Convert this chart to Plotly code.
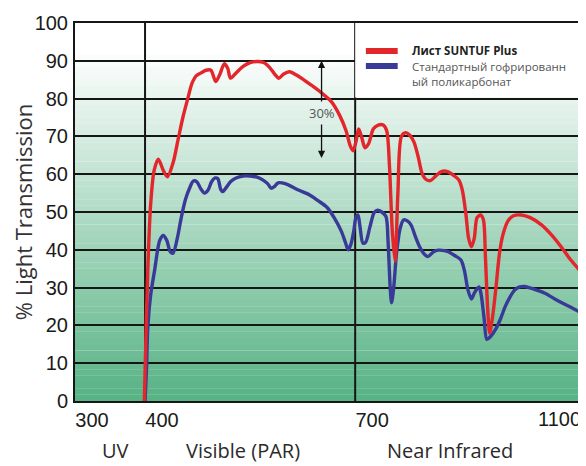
import plotly.graph_objects as go

# ---- data ----
wavelength_red = [399, 401, 404, 408, 413, 419, 426, 432, 440, 447, 454, 461, 467, 473, 480, 487,
                  494, 501, 507, 513, 518, 522, 530, 540, 550, 560, 570, 578, 585, 591, 598, 606,
                  620, 637, 652, 666, 678, 687, 693, 697, 701, 705, 709, 714, 719, 726, 733, 740,
                  745, 749, 753, 757, 761, 766, 772, 778, 784, 790, 795, 800, 807, 815, 823, 832,
                  842, 848, 853, 858, 862, 866, 870, 874, 879, 883, 886, 889, 892, 896, 901, 906,
                  911, 918, 926, 937, 950, 966, 980, 994, 1007, 1020]
suntuf_plus = [0, 15, 35, 52, 61, 64, 61, 59.3, 63, 69, 75, 80, 84, 86, 86.8, 87.5,
               87.5, 84.5, 86.5, 89.2, 88, 85.4, 86.8, 88.5, 89.5, 89.8, 89.5, 88.2, 86.5, 85.4, 86.5, 87.1,
               85.8, 83.6, 81.5, 79.2, 75.5, 71.5, 67.5, 66.2, 68.5, 72, 70, 67, 68, 72, 73, 73,
               71.5, 62, 45, 37, 55, 70, 71, 70.3, 68.5, 64.6, 60.5, 58.8, 58.3, 59.5, 60.7, 60.7,
               59.5, 58.5, 55.8, 49.6, 43, 40.8, 43, 48.5, 49.2, 48, 38, 25, 18, 22, 30, 39,
               44, 47.6, 49, 49.2, 48.5, 46.6, 44, 40.8, 37.5, 34.7]

wavelength_blue = [400, 402, 404, 408, 414, 418, 421, 426, 431, 436, 440, 446, 452, 458, 464, 469,
                   474, 480, 485, 490, 495, 500, 504, 508, 511, 516, 522, 530, 540, 550, 560, 568,
                   575, 580, 585, 590, 600, 619, 635, 647, 660, 670, 680, 686, 690, 694, 698, 701,
                   704, 707, 711, 715, 721, 727, 732, 738, 744, 747, 750, 752, 755, 759, 764, 769,
                   775, 780, 786, 792, 798, 804, 812, 819, 827, 833, 842, 851, 856, 861, 866, 870,
                   873, 877, 880, 884, 888, 893, 900, 907, 914, 921, 928, 935, 942, 955, 971, 985,
                   1000, 1020]
standard_pc = [0, 8, 19.7, 28, 35, 40, 42.5, 43.8, 42.5, 39.5, 39.1, 43, 48.8, 53.5, 56.5, 58.2,
               58, 56, 55, 55.8, 58, 59, 58.8, 56, 55.4, 56.5, 58, 59, 59.5, 59.5, 59.2, 58.5,
               57.5, 56.3, 56.8, 57.7, 57.5, 55.8, 54.5, 53, 51.2, 48.5, 45, 42, 40, 41.5, 45, 48.5,
               49.2, 46, 41.8, 42, 46, 49.8, 50.5, 50, 48.8, 42, 30, 26, 30, 39, 45.5, 47.9,
               47.6, 46.5, 43.5, 40.8, 39, 38.2, 39.5, 39.9, 39.8, 39.5, 38.5, 37.3, 34.5, 29.4, 27, 28.5,
               29.4, 30.2, 28, 22, 16.3, 17, 18.8, 21.5, 24.9, 27.5, 29.4, 30.2, 30.3, 29.6, 28.5, 27,
               25.5, 23.6]

series_names = ["Лист SUNTUF Plus", "Стандартный гофрированн<br>ый поликарбонат"]
x_tick_values = [300, 400, 700]
x_tick_labels = ["300", "400", "700"]
end_tick_label = "1100"
divider_wavelengths = [400, 700]
region_labels = ["UV", "Visible (PAR)", "Near Infrared"]
region_centers = [358, 540, 836]
gap_label = "30%"
gap_wavelength = 652
gap_top, gap_bottom, gap_text_level = 90, 64.3, 76.2

X_RANGE = [300, 1021]
Y_RANGE = [0, 100]

RED = "#e3262b"
BLUE = "#393a98"
GRID = "#161616"

fig = go.Figure()

fig.add_trace(go.Scatter(x=wavelength_blue, y=standard_pc, mode="lines", name="Стандартный гофрированный поликарбонат",
                         showlegend=False,
                         line=dict(color=BLUE, width=3.4, shape="spline", smoothing=0.8)))
fig.add_trace(go.Scatter(x=wavelength_red, y=suntuf_plus, mode="lines", name=series_names[0],
                         showlegend=False,
                         line=dict(color=RED, width=3.4, shape="spline", smoothing=0.8)))

shapes = []
# vertical gradient background (white at top -> green at bottom)
n_bands = 60
top_rgb = (255, 255, 255)
bot_rgb = (86, 178, 132)
for i in range(n_bands):
    y0 = Y_RANGE[0] + (Y_RANGE[1] - Y_RANGE[0]) * i / n_bands
    y1 = Y_RANGE[0] + (Y_RANGE[1] - Y_RANGE[0]) * (i + 1) / n_bands
    mid = (y0 + y1) / 2
    t = max(0.0, min(1.0, (93 - mid) / 93))
    c = tuple(round(top_rgb[k] + (bot_rgb[k] - top_rgb[k]) * t) for k in range(3))
    shapes.append(dict(type="rect", xref="paper", yref="y", x0=0, x1=1, y0=y0, y1=y1 + 0.05,
                       fillcolor="rgb(%d,%d,%d)" % c, line=dict(width=0), layer="below"))
# white legend box in the upper right
shapes.append(dict(type="rect", xref="x", yref="y", x0=divider_wavelengths[1], x1=X_RANGE[1],
                   y0=80.3, y1=Y_RANGE[1], fillcolor="white", line=dict(width=0), layer="between"))
# vertical dividers
for w in divider_wavelengths:
    shapes.append(dict(type="line", xref="x", yref="paper", x0=w, x1=w, y0=0, y1=1,
                       line=dict(color=GRID, width=2), layer="between"))

# legend (drawn by hand to match the swatch layout)
legend_swatch_x = (0.576, 0.639)
legend_text_x = 0.664
legend_rows = [(RED, 0.926, 0.926, "<b>" + series_names[0] + "</b>", "#222"),
               (BLUE, 0.886, 0.865, series_names[1], "#555")]
annotations = []
for col, sy, ty, txt, tcol in legend_rows:
    shapes.append(dict(type="line", xref="paper", yref="paper", x0=legend_swatch_x[0],
                       x1=legend_swatch_x[1], y0=sy, y1=sy, line=dict(color=col, width=6),
                       layer="above"))
    annotations.append(dict(x=legend_text_x, y=ty, xref="paper", yref="paper", text=txt,
                            showarrow=False, xanchor="left", yanchor="middle", align="left",
                            font=dict(family="Open Sans", size=11.5, color=tcol)))

for lab, cx in zip(region_labels, region_centers):
    annotations.append(dict(x=cx, y=-0.131, xref="x", yref="paper", text=lab, showarrow=False,
                            font=dict(family="Open Sans", size=20, color="#2a2a2a"),
                            xanchor="center", yanchor="middle"))
annotations.append(dict(x=1.005, y=-0.047, xref="paper", yref="paper", text=end_tick_label,
                        showarrow=False, xanchor="right", yanchor="middle",
                        font=dict(family="Liberation Sans", size=20, color="#1a1a1a")))
# 30% double arrow
px_per_unit = 378 / 100
annotations.append(dict(x=gap_wavelength, y=gap_top, xref="x", yref="y", text=gap_label,
                        showarrow=True, ax=0, ay=(gap_top - gap_text_level) * px_per_unit,
                        arrowhead=2, arrowsize=1.1, arrowwidth=1.3, arrowcolor="#111",
                        standoff=0, startstandoff=1,
                        font=dict(family="Open Sans", size=13, color="#555")))
annotations.append(dict(x=gap_wavelength, y=gap_bottom, xref="x", yref="y", text=gap_label,
                        showarrow=True, ax=0, ay=(gap_bottom - gap_text_level) * px_per_unit,
                        arrowhead=2, arrowsize=1.1, arrowwidth=1.3, arrowcolor="#111",
                        standoff=0, startstandoff=1,
                        font=dict(family="Open Sans", size=13, color="rgba(0,0,0,0)")))

# the page body has an 8px margin: size the figure so it fills the 586x466 window
fig.update_layout(
    width=578, height=458,
    margin=dict(l=67, r=4, t=15, b=65),
    paper_bgcolor="white", plot_bgcolor="white",
    shapes=shapes, annotations=annotations,
    showlegend=False,
    xaxis=dict(range=X_RANGE, tickvals=x_tick_values, ticktext=x_tick_labels, showgrid=False,
               zeroline=False, showline=True, linecolor=GRID, linewidth=2, mirror=True,
               ticks="", ticklabelshift=17, ticklabelstandoff=0,
               tickfont=dict(family="Liberation Sans", size=20, color="#1a1a1a")),
    yaxis=dict(range=Y_RANGE, dtick=10, showgrid=True, gridcolor=GRID, gridwidth=2,
               zeroline=False, showline=True, linecolor=GRID, linewidth=2, mirror=True,
               ticks="", ticklabelstandoff=1,
               tickfont=dict(family="Liberation Sans", size=20, color="#1a1a1a"),
               title=dict(text="% Light Transmission", standoff=0,
                          font=dict(family="Open Sans", size=22, color="#333"))),
)

fig.write_html("out.html")
